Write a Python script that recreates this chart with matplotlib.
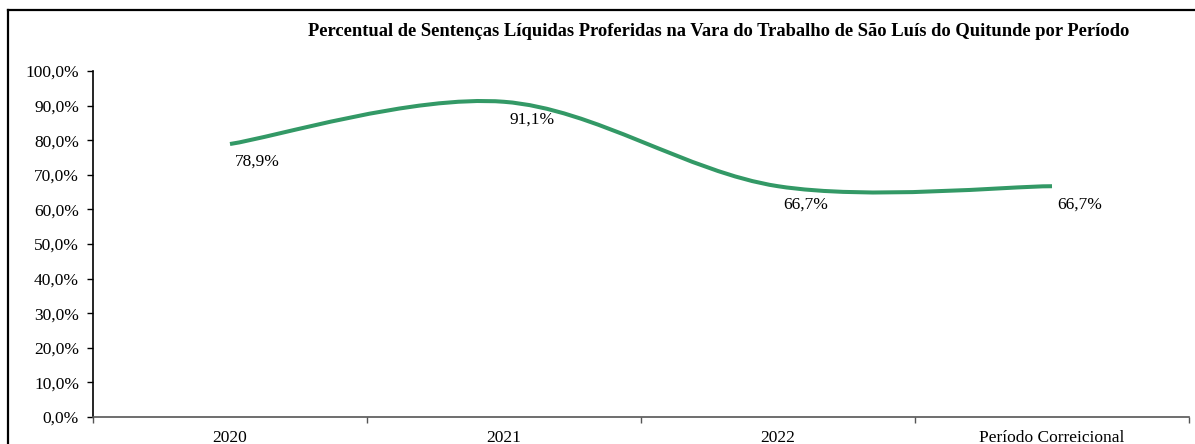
import matplotlib
matplotlib.use("Agg")
import matplotlib.pyplot as plt
from matplotlib.path import Path
from matplotlib.patches import PathPatch
from matplotlib.lines import Line2D
import numpy as np

categories = ["2020", "2021", "2022", "Período Correicional"]
values = [78.9, 91.1, 66.7, 66.7]
labels = ["78,9%", "91,1%", "66,7%", "66,7%"]
yticks = [0, 10, 20, 30, 40, 50, 60, 70, 80, 90, 100]
title = "Percentual de Sentenças Líquidas Proferidas na Vara do Trabalho de São Luís do Quitunde por Período"

plt.rcParams['font.family'] = ['Liberation Serif', 'DejaVu Serif']

fig = plt.figure(figsize=(11.95, 4.44), dpi=100)
ax = fig.add_axes([93/1195, 27/444, (1189-93)/1195, (417-71)/444])

color = '#339966'
xs = np.arange(len(values), dtype=float)
ys = np.array(values, dtype=float)

# Excel-style smoothed line (cubic Bezier through points)
verts = [(xs[0], ys[0])]
codes = [Path.MOVETO]
n = len(xs)
for i in range(n - 1):
    p0 = np.array([xs[max(i - 1, 0)], ys[max(i - 1, 0)]])
    p1 = np.array([xs[i], ys[i]])
    p2 = np.array([xs[i + 1], ys[i + 1]])
    p3 = np.array([xs[min(i + 2, n - 1)], ys[min(i + 2, n - 1)]])
    c1 = p1 + (p2 - p0) / 6.0
    c2 = p2 - (p3 - p1) / 6.0
    verts += [tuple(c1), tuple(c2), tuple(p2)]
    codes += [Path.CURVE4] * 3
patch = PathPatch(Path(verts, codes), facecolor='none', edgecolor=color,
                  lw=2.9, capstyle='butt', joinstyle='round')
ax.add_patch(patch)

for x, y, lab in zip(xs, ys, labels):
    ax.annotate(lab, (x, y), xytext=(20, -13), textcoords='offset points',
                ha='center', va='center', fontsize=12.5, color='black')

ax.set_xlim(-0.5, n - 0.5)
ax.set_ylim(0, 100)
ax.set_yticks(yticks)
ax.set_yticklabels([f"{v:.1f}%".replace('.', ',') for v in yticks], fontsize=12.5)
ax.set_xticks(xs)
ax.set_xticklabels(categories, fontsize=12.5)
ax.set_xticks(np.arange(n + 1) - 0.5, minor=True)
ax.tick_params(axis='x', which='major', length=0, pad=9)
ax.tick_params(axis='x', which='minor', length=4, color='#555555', width=1)
ax.tick_params(axis='y', length=4, width=1, pad=6)

for s in ['top', 'right']:
    ax.spines[s].set_visible(False)
ax.spines['left'].set_linewidth(1.2)
ax.spines['bottom'].set_color('#555555')
ax.spines['bottom'].set_linewidth(1.2)

fig.text(719/1195, 1 - 32/444, title, ha='center', va='center',
         fontsize=13.3, fontweight='bold')

# outer chart frame
fig.add_artist(Line2D([8/1195, 8/1195], [0, 1 - 10/444], transform=fig.transFigure,
                      color='black', lw=1.6))
fig.add_artist(Line2D([8/1195, 1], [1 - 10/444, 1 - 10/444], transform=fig.transFigure,
                      color='black', lw=1.6))

fig.savefig("out.png", dpi=100)
